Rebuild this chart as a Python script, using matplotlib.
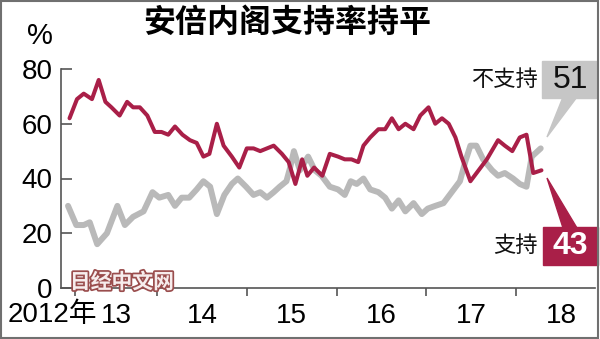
import matplotlib.pyplot as plt
from matplotlib.patches import Rectangle, Polygon
import matplotlib.patheffects as pe

# x = months counted from Jan 2013, values in %
support_m = [0.3, 1.3, 2.2, 3.3, 4.2, 5.1, 5.9, 7.0, 8.0, 8.8, 9.7, 10.7, 11.7,
             12.6, 13.5, 14.4, 15.4, 16.4, 17.3, 18.2, 19.0, 20.0, 20.9, 22.0,
             23.0, 24.0, 24.9, 25.8, 26.7, 27.6, 28.7, 29.6, 30.5, 31.4, 32.1,
             33.0, 34.1, 35.1, 36.2, 37.1, 38.0, 38.9, 39.6, 40.5, 41.6, 42.5,
             43.4, 44.3, 45.2, 46.3, 47.2, 48.3, 49.2, 50.1, 51.0, 51.9, 52.7,
             53.9, 55.0, 56.1, 57.6, 58.5, 59.5, 60.5, 61.4, 62.3, 63.4]
support = [62, 69, 71, 69, 76, 68, 66, 63, 68, 66, 66, 63, 57, 57, 56, 59, 56,
           54, 53, 48, 49, 60, 52, 48, 44, 51, 51, 50, 51, 52, 49, 46, 38, 47,
           41, 44, 41, 49, 48, 47, 47, 46, 52, 55, 58, 58, 62, 58, 60, 58, 63,
           66, 60, 62, 60, 55, 48, 39, 43, 47, 54, 52, 50, 55, 56, 42, 43]

oppose_m = [0.1, 1.2, 2.2, 3.0, 4.0, 5.3, 6.7, 7.7, 8.8, 10.2, 11.4, 12.3, 13.5,
            14.4, 15.3, 16.3, 17.3, 18.2, 19.1, 20.0, 21.0, 22.0, 22.8, 23.9,
            24.9, 25.8, 26.7, 27.6, 28.4, 29.3, 29.8, 30.3, 31.1, 32.2, 33.1,
            34.0, 35.1, 36.2, 37.1, 37.9, 38.7, 39.6, 40.5, 41.6, 42.5, 43.4,
            44.3, 45.2, 46.3, 47.4, 48.2, 49.2, 50.3, 51.4, 52.5, 53.2, 53.9,
            54.7, 55.6, 56.8, 57.6, 58.5, 59.6, 60.5, 61.4, 62.1, 63.3]
oppose = [30, 23, 23, 24, 16, 20, 30, 23, 26, 28, 35, 33, 34, 30, 33, 33, 36,
          39, 37, 27, 34, 38, 40, 37, 34, 35, 33, 35, 37, 39, 44, 50, 43, 48,
          43, 41, 37, 36, 34, 39, 38, 40, 36, 35, 33, 29, 32, 28, 31, 27, 29,
          30, 31, 35, 39, 46, 52, 52, 47, 43, 41, 42, 40, 38, 37, 48, 51]

year_ticks = [1, 12, 24, 36, 48, 60]
label_pos = [6.6, 18, 30, 42, 54, 66]
year_labels = ['13', '14', '15', '16', '17', '18']
y_ticks = [0, 20, 40, 60, 80]

RED = '#a91f48'
GRAY = '#b9b9b9'
NUM = ['Liberation Sans', 'DejaVu Sans']
CJK = ['Noto Sans CJK SC', 'DejaVu Sans']
W, H = 600, 339


def fx(px):
    return px / W


def fy(py):
    return 1 - py / H


fig = plt.figure(figsize=(6, 3.39), dpi=100)
ax = fig.add_axes([fx(61), fy(288), fx(595) - fx(61), fy(69) - fy(288)])

ax.plot(oppose_m, oppose, color=GRAY, lw=4.3, solid_joinstyle='round',
        solid_capstyle='round')
ax.plot(support_m, support, color=RED, lw=2.9, solid_joinstyle='round',
        solid_capstyle='round')

ax.set_xlim(-0.84, 70.56)
ax.set_ylim(0, 80)
for s in ['top', 'right']:
    ax.spines[s].set_visible(False)
ax.spines['left'].set_bounds(0, 80)
for s in ['left', 'bottom']:
    ax.spines[s].set_color('#555555')
    ax.spines[s].set_linewidth(1.2)

ax.set_yticks(y_ticks)
ax.set_yticklabels([str(v) for v in y_ticks], family=NUM, fontsize=20)
ax.tick_params(axis='y', direction='in', length=8, width=1.2,
               color='#555555', pad=6)

ax.set_xticks(year_ticks)
ax.set_xticklabels([])
ax.tick_params(axis='x', which='major', direction='out', length=6,
               width=1.2, color='#555555')
ax.set_xticks(label_pos, minor=True)
ax.set_xticklabels(year_labels, minor=True, family=NUM, fontsize=20)
ax.tick_params(axis='x', which='minor', length=0, pad=11)

fig.text(fx(97), fy(315), '2012年', ha='right', va='center', fontsize=20,
         family=['Liberation Sans', 'Noto Sans CJK SC'])

fig.text(fx(40), fy(36), '%', ha='center', va='center', fontsize=21,
         family=NUM)
fig.text(fx(287), fy(23), '安倍内阁支持率持平', ha='center', va='center',
         fontsize=23, fontweight='bold', family=CJK)

# watermark
fig.text(fx(122), fy(282), '日经中文网', ha='center', va='center',
         fontsize=15, fontweight='bold', family=CJK, color='#f7eded',
         path_effects=[pe.withStroke(linewidth=2.5, foreground='#9a4d4d')])

# callout boxes
fig.patches.append(Polygon([(fx(563), fy(97)), (fx(577), fy(97)),
                            (fx(547), fy(137))], closed=True,
                           transform=fig.transFigure, color='#c6c6c6'))
fig.patches.append(Rectangle((fx(542), fy(98)), fx(597) - fx(542),
                             fy(61) - fy(98), transform=fig.transFigure,
                             color='#c6c6c6'))
fig.text(fx(570), fy(80), '51', ha='center', va='center', fontsize=23,
         family=NUM, color='#111111')
fig.text(fx(538), fy(79), '不支持', ha='right', va='center', fontsize=16,
         fontweight='medium', family=CJK, color='#111111')

fig.patches.append(Polygon([(fx(563), fy(228)), (fx(577), fy(228)),
                            (fx(547), fy(178))], closed=True,
                           transform=fig.transFigure, color=RED))
fig.patches.append(Rectangle((fx(543), fy(265)), fx(598) - fx(543),
                             fy(227) - fy(265), transform=fig.transFigure,
                             color=RED))
fig.text(fx(570), fy(246), '43', ha='center', va='center', fontsize=23,
         fontweight='bold', family=NUM, color='white')
fig.text(fx(538), fy(245), '支持', ha='right', va='center', fontsize=16,
         fontweight='medium', family=CJK, color='#111111')

# outer frame
fig.patches.append(Rectangle((0.002, 0.003), 0.995, 0.994,
                             transform=fig.transFigure, fill=False,
                             edgecolor='#707070', lw=1.5))

fig.savefig('out.png', dpi=100)
